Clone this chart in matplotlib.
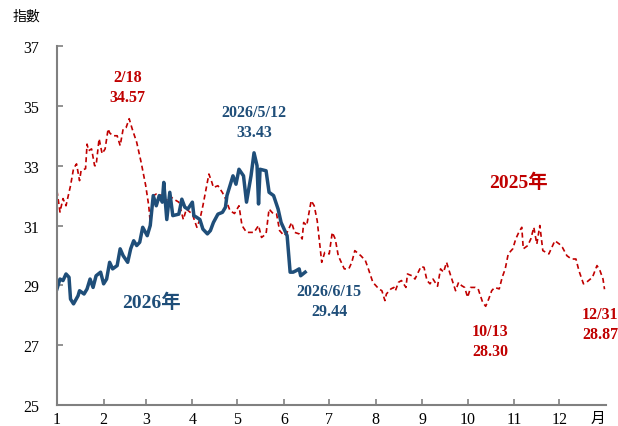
import matplotlib
matplotlib.use("Agg")
import matplotlib.pyplot as plt
import pandas as pd

plt.rcParams['font.family'] = ['Liberation Serif', 'Noto Sans CJK TC']

# day offsets from Jan 1 and index values
day_2025 = [0, 2, 4, 6, 9, 11, 13, 15, 16, 19, 20, 21, 23, 25, 26, 28, 30, 32, 34, 35,
            37, 40, 42, 44, 46, 48, 50, 53, 56, 59, 61, 62, 64, 66, 70, 72, 75, 77, 81, 84,
            86, 90, 93, 95, 97, 101, 103, 104, 107, 110, 112, 115, 118, 121, 123, 126, 131, 134, 136, 139,
            141, 144, 146, 148, 151, 153, 156, 158, 161, 163, 164, 166, 169, 171, 173, 176, 178, 181, 183, 185,
            187, 191, 194, 196, 198, 202, 205, 207, 210, 214, 216, 218, 219, 222, 224, 225, 227, 229, 232, 233,
            236, 238, 242, 244, 246, 248, 250, 253, 255, 257, 259, 261, 265, 267, 269, 271, 273, 275, 278, 280,
            283, 285, 287, 289, 291, 294, 296, 298, 300, 303, 305, 307, 309, 310, 313, 315, 317, 319, 321, 323,
            327, 329, 331, 334, 336, 339, 342, 345, 347, 350, 352, 356, 359, 361, 363, 364]
val_2025 = [32.16, 31.45, 31.90, 31.66, 32.33, 32.90, 33.06, 32.50, 32.83, 32.90, 33.72, 33.50, 33.56, 33.00, 33.00, 33.90, 33.40, 33.56, 34.23, 34.10,
            34.00, 34.00, 33.67, 34.23, 34.28, 34.57, 34.23, 33.78, 33.10, 32.33, 31.66, 31.10, 32.00, 32.05, 32.00, 31.78, 32.00, 31.90, 31.78, 31.20,
            31.55, 31.38, 30.94, 31.20, 31.66, 32.72, 32.44, 32.27, 32.33, 32.10, 31.90, 31.50, 31.40, 31.66, 31.00, 30.77, 30.77, 31.00, 30.60, 30.72,
            31.55, 31.38, 31.38, 30.83, 30.66, 30.77, 31.10, 30.77, 30.72, 30.55, 31.10, 31.00, 31.83, 31.66, 31.16, 29.77, 30.10, 30.05, 30.77, 30.55,
            29.99, 29.55, 29.55, 29.77, 30.16, 29.99, 29.83, 29.55, 29.10, 28.88, 28.82, 28.49, 28.71, 28.88, 28.93, 28.82, 29.10, 29.16, 28.93, 29.38,
            29.32, 29.21, 29.63, 29.60, 29.16, 29.05, 29.21, 28.97, 29.55, 29.44, 29.77, 29.44, 28.82, 29.10, 28.99, 28.93, 28.60, 28.93, 28.93, 28.88,
            28.43, 28.30, 28.54, 28.82, 28.93, 28.88, 29.27, 29.55, 30.05, 30.22, 30.55, 30.77, 30.94, 30.22, 30.33, 30.55, 30.94, 30.38, 31.00, 30.16,
            30.05, 30.27, 30.49, 30.38, 30.27, 29.99, 29.88, 29.88, 29.49, 29.05, 29.10, 29.27, 29.66, 29.49, 29.21, 28.87]

day_2026 = [0, 2, 4, 6, 8, 9, 11, 14, 15, 18, 20, 22, 24, 26, 29, 31, 33, 35, 37, 40,
            42, 44, 47, 49, 51, 53, 55, 57, 60, 62, 64, 66, 68, 70, 71, 73, 75, 77, 81, 83,
            85, 87, 90, 91, 93, 95, 97, 100, 102, 104, 107, 110, 112, 113, 115, 117, 119, 121, 124, 126,
            129, 131, 133, 134, 135, 139, 141, 144, 147, 149, 152, 153, 155, 157, 159, 161, 162, 165]
val_2026 = [28.88, 29.21, 29.16, 29.38, 29.27, 28.54, 28.38, 28.65, 28.82, 28.71, 28.88, 29.21, 28.93, 29.32, 29.44, 29.05, 29.21, 29.77, 29.55, 29.66,
            30.22, 29.99, 29.77, 30.22, 30.49, 30.33, 30.44, 30.94, 30.66, 31.00, 32.00, 31.66, 32.00, 31.78, 32.44, 31.20, 32.11, 31.33, 31.38, 31.88,
            31.61, 31.55, 31.78, 31.33, 31.27, 31.20, 30.88, 30.72, 30.83, 31.10, 31.38, 31.44, 31.61, 32.00, 32.33, 32.66, 32.38, 32.88, 32.66, 31.78,
            32.66, 33.43, 33.00, 31.72, 32.88, 32.83, 32.11, 32.00, 31.55, 31.10, 30.77, 30.66, 29.44, 29.44, 29.49, 29.55, 29.32, 29.44]

month_labels = [str(m) for m in range(1, 13)]
month_starts = [(pd.Timestamp(2025, m, 1) - pd.Timestamp(2025, 1, 1)).days for m in range(1, 13)]

red = '#C00000'
blue = '#1F4E79'

fig = plt.figure(figsize=(6.18, 4.27), dpi=100)
ax = fig.add_axes([0.0922, 0.0492, 0.8884, 0.8407])

ax.plot(day_2025, val_2025, color=red, lw=1.2, ls=(0, (3, 2)))
ax.plot(day_2026, val_2026, color=blue, lw=2.5)

ax.set_xlim(0, 365)
ax.set_ylim(25, 37)
ax.set_yticks(range(25, 38, 2))
ax.set_xticks(month_starts)
ax.set_xticklabels(month_labels)

for s in ['top', 'right']:
    ax.spines[s].set_visible(False)
for s in ['left', 'bottom']:
    ax.spines[s].set_color('#808080')
    ax.spines[s].set_linewidth(1.5)
ax.tick_params(axis='both', direction='in', length=4, width=1.2, color='#808080', labelsize=11.5)
ax.tick_params(axis='y', pad=13)
ax.tick_params(axis='x', pad=4)

bold = dict(fontsize=11.5, fontweight='bold', ha='center', va='center', linespacing=1.3)
ax.text(47, 35.63, '2/18\n34.57', color=red, **bold)
ax.text(131, 34.46, '2026/5/12\n33.43', color=blue, **bold)
ax.text(181, 28.48, '2026/6/15\n29.44', color=blue, **bold)
ax.text(288, 27.14, '10/13\n28.30', color=red, **bold)
ax.text(361, 27.71, '12/31\n28.87', color=red, **bold)
ax.text(307, 32.45, '2025年', color=red, fontsize=14, fontweight='bold', ha='center', va='center')
ax.text(63, 28.44, '2026年', color=blue, fontsize=14, fontweight='bold', ha='center', va='center')

fig.text(26 / 618, 1 - 17 / 427, '指數', fontsize=10, ha='center', va='center',
         family=['Noto Sans CJK TC'])
fig.text(598 / 618, 1 - 419 / 427, '月', fontsize=10.5, ha='center', va='center',
         family=['Noto Sans CJK TC'])

fig.savefig('out.png', dpi=100)
